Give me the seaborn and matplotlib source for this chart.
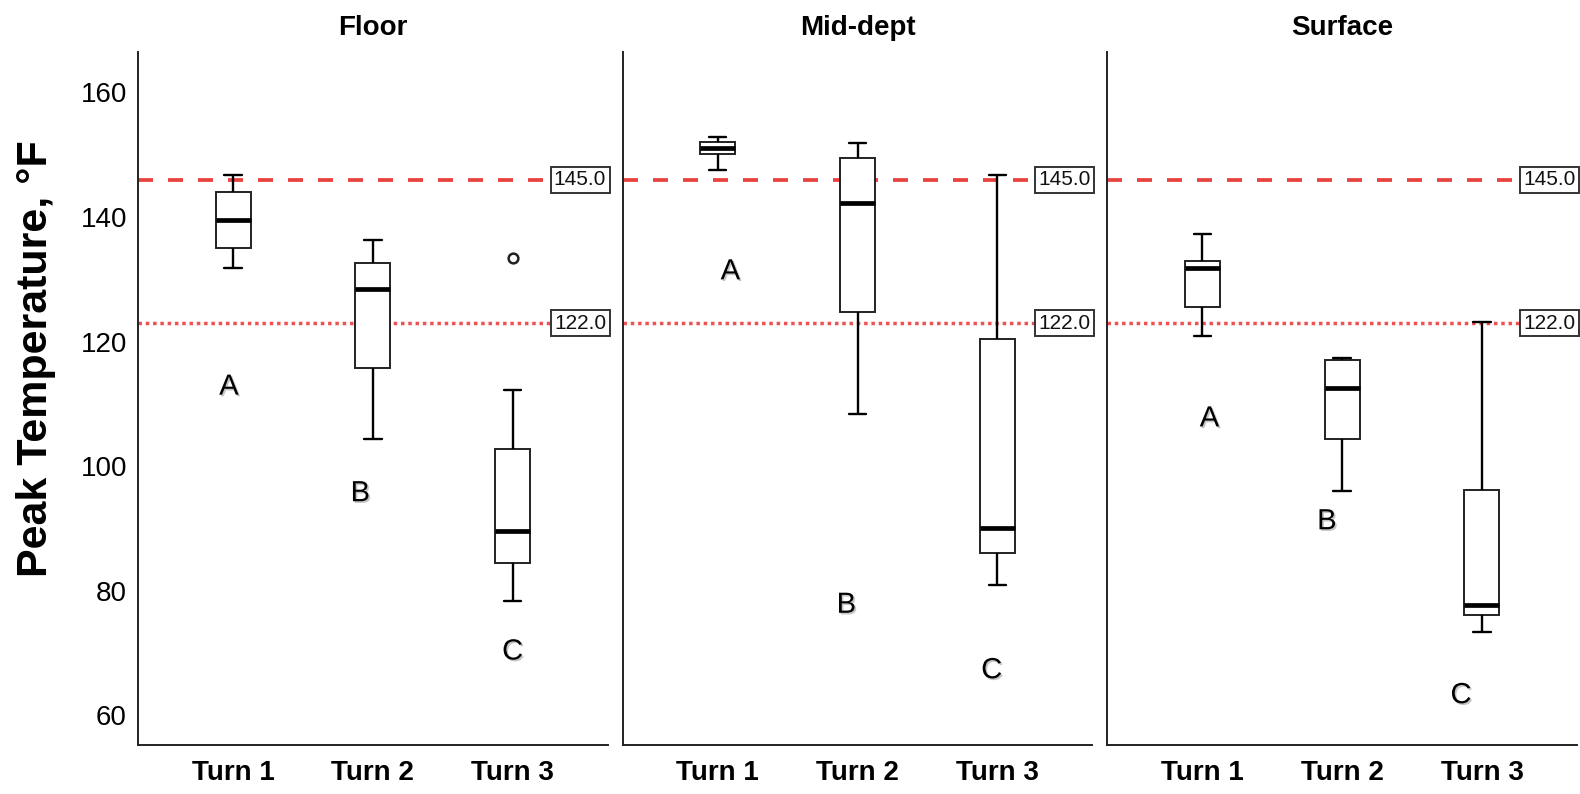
import matplotlib
matplotlib.use("Agg")
import matplotlib.pyplot as plt
import matplotlib.patheffects as pe
import matplotlib.transforms as mtransforms
import seaborn as sns
import pandas as pd

# ---------------- data ----------------
locations = ["Floor", "Mid-dept", "Surface"]
turns = ["Turn 1", "Turn 2", "Turn 3"]

# raw samples per group (whisker low, Q1, median, Q3, whisker high, [outlier])
floor_t1 = [130.9, 134.1, 138.6, 143.0, 145.7]
floor_t2 = [103.4, 114.8, 127.4, 131.7, 135.3]
floor_t3 = [77.4, 83.5, 83.5, 88.7, 88.7, 101.8, 101.8, 111.3, 132.4]
mid_t1 = [146.5, 149.1, 150.1, 151.1, 151.9]
mid_t2 = [107.4, 123.8, 141.3, 148.5, 150.9]
mid_t3 = [79.9, 85.1, 89.1, 119.4, 145.8]
surface_t1 = [120.0, 124.6, 130.8, 132.0, 136.3]
surface_t2 = [95.1, 103.4, 111.6, 116.1, 116.4]
surface_t3 = [72.5, 75.2, 76.8, 95.2, 122.1]

ref_dashed = 145.0
ref_dotted = 122.0

yticks = [60, 80, 100, 120, 140, 160]
ylim = (54.3, 165.5)

# significance letters: letter, x offset from category centre, y value
letters = ["A", "B", "C"]
floor_letter_dx = [-0.03, -0.09, 0.0]
floor_letter_y = [111.8, 94.7, 69.3]
mid_letter_dx = [0.09, -0.08, -0.04]
mid_letter_y = [130.3, 76.8, 66.3]
surface_letter_dx = [0.05, -0.11, -0.15]
surface_letter_y = [106.7, 90.2, 62.3]

# ---------------- table ----------------
groups = {
    ("Floor", "Turn 1"): floor_t1, ("Floor", "Turn 2"): floor_t2, ("Floor", "Turn 3"): floor_t3,
    ("Mid-dept", "Turn 1"): mid_t1, ("Mid-dept", "Turn 2"): mid_t2, ("Mid-dept", "Turn 3"): mid_t3,
    ("Surface", "Turn 1"): surface_t1, ("Surface", "Turn 2"): surface_t2, ("Surface", "Turn 3"): surface_t3,
}
rows = []
for (loc, turn), vals in groups.items():
    for v in vals:
        rows.append({"Location": loc, "Turn": turn, "Temp": v})
df = pd.DataFrame(rows)

letter_info = {
    "Floor": (floor_letter_dx, floor_letter_y),
    "Mid-dept": (mid_letter_dx, mid_letter_y),
    "Surface": (surface_letter_dx, surface_letter_y),
}

# ---------------- style ----------------
sns.set_style("white")
plt.rcParams["font.family"] = ["Liberation Sans", "DejaVu Sans"]
plt.rcParams["text.color"] = "black"
plt.rcParams["axes.labelcolor"] = "black"
plt.rcParams["xtick.color"] = "black"
plt.rcParams["ytick.color"] = "black"

W, H = 1580, 794
fig, axes = plt.subplots(1, 3, figsize=(W / 100, H / 100), dpi=100, sharey=True)
fig.subplots_adjust(left=138 / W, right=1577 / W, bottom=1 - 745 / H, top=1 - 52 / H, wspace=0.032)

spine_col = "#222222"
for ax, loc in zip(axes, locations):
    sub = df[df["Location"] == loc]
    sns.boxplot(
        data=sub, x="Turn", y="Temp", order=turns, ax=ax,
        width=0.25, color="white", linecolor="#111111", linewidth=1.3,
        boxprops=dict(edgecolor="#222222", linewidth=1.4),
        medianprops=dict(color="black", linewidth=3.4),
        whiskerprops=dict(color="black", linewidth=1.7),
        capprops=dict(color="black", linewidth=1.7),
        flierprops=dict(marker="o", markersize=7, markerfacecolor="none",
                        markeredgecolor="#222222", markeredgewidth=1.8),
        zorder=3,
    )
    ax.axhline(ref_dashed, color="#e8423f", linewidth=2.7,
               linestyle=(0, (4.0, 4.0)), zorder=2)
    ax.axhline(ref_dotted, color="#f05050", linewidth=2.5,
               linestyle=(0, (1.0, 1.1)), zorder=2)
    for val in (ref_dashed, ref_dotted):
        ax.text(0.997, val, f"{val:.1f}", transform=ax.get_yaxis_transform(),
                ha="right", va="center", fontsize=15, color="#111111", zorder=5,
                bbox=dict(boxstyle="square,pad=0.16", facecolor="white",
                          edgecolor="#333333", linewidth=1.4))
    dxs, ys = letter_info[loc]
    for i, (lt, dx, yv) in enumerate(zip(letters, dxs, ys)):
        ax.text(i + dx, yv, lt, ha="center", va="center", fontsize=21, color="black",
                zorder=6,
                path_effects=[pe.SimplePatchShadow(offset=(1.2, -1.2), shadow_rgbFace="gray", alpha=0.45),
                              pe.Normal()])

    ax.set_xlim(-0.68, 2.68)
    ax.set_ylim(*ylim)
    ax.set_title(loc, fontsize=20, fontweight="bold", pad=12, color="black")
    ax.set_xlabel("")
    ax.set_ylabel("")
    for s in ("top", "right"):
        ax.spines[s].set_visible(False)
    for s in ("left", "bottom"):
        ax.spines[s].set_color(spine_col)
        ax.spines[s].set_linewidth(1.4)
    ax.tick_params(axis="x", length=0, pad=11, labelsize=20, labelcolor="black")
    for lab in ax.get_xticklabels():
        lab.set_fontweight("bold")
    ax.tick_params(axis="y", length=0, pad=8, labelsize=20, labelcolor="black")

axes[0].set_yticks(yticks)
axes[0].set_yticklabels([str(t) for t in yticks])
offset = mtransforms.ScaledTranslation(0, -6 / 100, fig.dpi_scale_trans)
for lab in axes[0].get_yticklabels():
    lab.set_transform(lab.get_transform() + offset)
for ax in axes[1:]:
    ax.tick_params(axis="y", labelleft=False)

axes[0].set_ylabel("Peak Temperature, °F", fontsize=31, fontweight="bold",
                   va="center", ha="center", color="black")
axes[0].yaxis.set_label_coords(-0.218, 0.557)

fig.savefig("out.png", dpi=100, facecolor="white")
